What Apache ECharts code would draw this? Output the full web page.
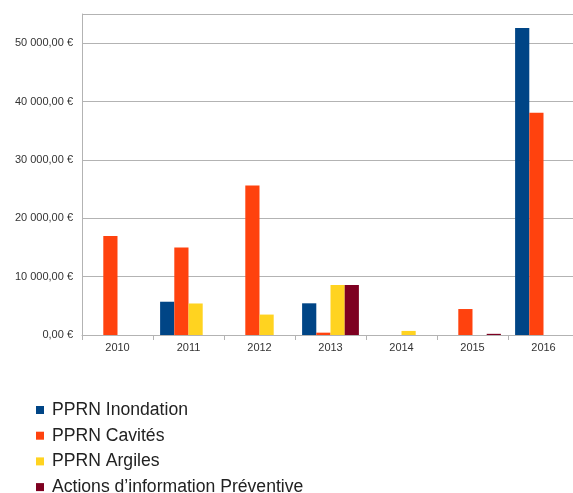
<!DOCTYPE html>
<html>
<head>
<meta charset="utf-8">
<script src="https://cdn.jsdelivr.net/npm/echarts@6/dist/echarts.min.js"></script>
<style>
html,body{margin:0;padding:0;background:#fff;overflow:hidden;}
#c{width:579px;height:493px;}
</style>
</head>
<body>
<div id="c"></div>
<script>
const categories = ['2010','2011','2012','2013','2014','2015','2016'];
const inondation = [0, 5700, 0, 5430, 0, 0, 52600];
const cavites = [16970, 15000, 25600, 400, 0, 4450, 38100];
const argiles = [0, 5400, 3500, 8570, 700, 0, 0];
const actions = [0, 0, 0, 8570, 0, 200, 0];
const seriesNames = ['PPRN Inondation','PPRN Cavités','PPRN Argiles','Actions d\u2019information Préventive'];
const colors = ['#004586','#ff420e','#ffd320','#7e0021'];

function fmt(v){
  const s = Math.round(v).toString().replace(/\B(?=(\d{3})+(?!\d))/g,' ');
  return s + ',00 €';
}

const chart = echarts.init(document.getElementById('c'));
const font = 'Liberation Sans, Arial, sans-serif';
chart.setOption({
  animation:false,
  color: colors,
  textStyle:{fontFamily:font},
  grid:{left:82, top:14, right:0, bottom:158, containLabel:false},
  legend:{
    orient:'vertical', left:31, top:396, height:200, padding:5,
    itemWidth:8, itemHeight:8, itemGap:7.7,
    icon:'rect',
    textStyle:{fontSize:17.6, color:'#222', fontFamily:font, padding:[0,0,0,3]},
    data: seriesNames
  },
  xAxis:{
    type:'category', data:categories,
    axisLine:{lineStyle:{color:'#b3b3b3'}},
    axisTick:{show:true, length:5, lineStyle:{color:'#b3b3b3'}},
    axisLabel:{color:'#333', fontSize:11, margin:7, fontFamily:font}
  },
  yAxis:{
    type:'value', min:0, max:55000, interval:10000,
    axisLine:{show:true, lineStyle:{color:'#b3b3b3'}},
    axisTick:{show:false},
    splitLine:{lineStyle:{color:'#b3b3b3'}},
    axisLabel:{color:'#333', fontSize:11, margin:9, fontFamily:font,
      formatter:function(v){ return v>50000 ? '' : fmt(v); }}
  },
  series:[
    {name:seriesNames[0], type:'bar', data:inondation, barGap:'0%', barCategoryGap:'20%'},
    {name:seriesNames[1], type:'bar', data:cavites, barGap:'0%', barCategoryGap:'20%'},
    {name:seriesNames[2], type:'bar', data:argiles, barGap:'0%', barCategoryGap:'20%'},
    {name:seriesNames[3], type:'bar', data:actions, barGap:'0%', barCategoryGap:'20%'}
  ]
});
</script>
</body>
</html>
